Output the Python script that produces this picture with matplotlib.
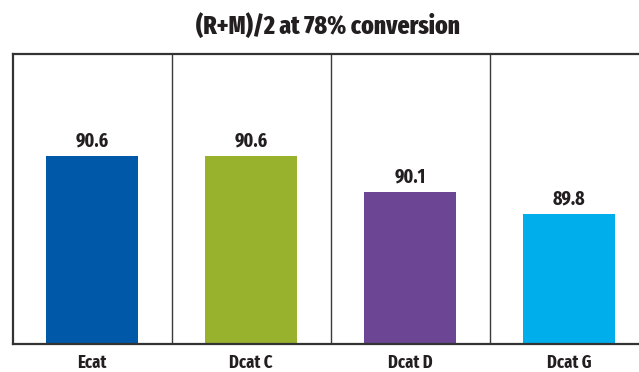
import matplotlib
matplotlib.use("Agg")
import matplotlib.pyplot as plt

categories = ["Ecat", "Dcat C", "Dcat D", "Dcat G"]
values = [90.6, 90.6, 90.1, 89.8]
colors = ["#0059A8", "#98B22E", "#6C4594", "#00AEEC"]

plt.rcParams["font.family"] = ["Fira Sans Extra Condensed", "DejaVu Sans"]
TEXT = "#231F20"

fig = plt.figure(figsize=(6.39, 3.72), dpi=100)
ax = fig.add_axes([12.5 / 639, 28 / 372, 636 / 639, 289.7 / 372])

x = range(len(categories))
ax.bar(x, values, width=0.58, color=colors, zorder=2)
ax.set_ylim(88, 92)
ax.set_xlim(-0.5, len(categories) - 0.5)

for xi, v in zip(x, values):
    ax.annotate(f"{v:.1f}", (xi, v), xytext=(0, 4), textcoords="offset points",
                ha="center", va="bottom", fontsize=14, fontweight="bold", color=TEXT)

# separators between categories
for xi in range(1, len(categories)):
    ax.axvline(xi - 0.5, color="#3a3a3a", lw=1.0, zorder=1)

ax.set_yticks([])
ax.set_xticks(list(x))
ax.set_xticklabels(categories, fontsize=13, fontweight="bold", color=TEXT)
ax.tick_params(axis="x", length=0, pad=7)

for side in ["left", "top", "bottom"]:
    ax.spines[side].set_linewidth(1.6)
    ax.spines[side].set_color("#333333")
ax.spines["right"].set_visible(False)

fig.text(0.513, 0.93, "(R+M)/2 at 78% conversion", ha="center", va="center",
         fontsize=18.5, fontweight="heavy", color=TEXT)

fig.savefig("out.png", dpi=100)
